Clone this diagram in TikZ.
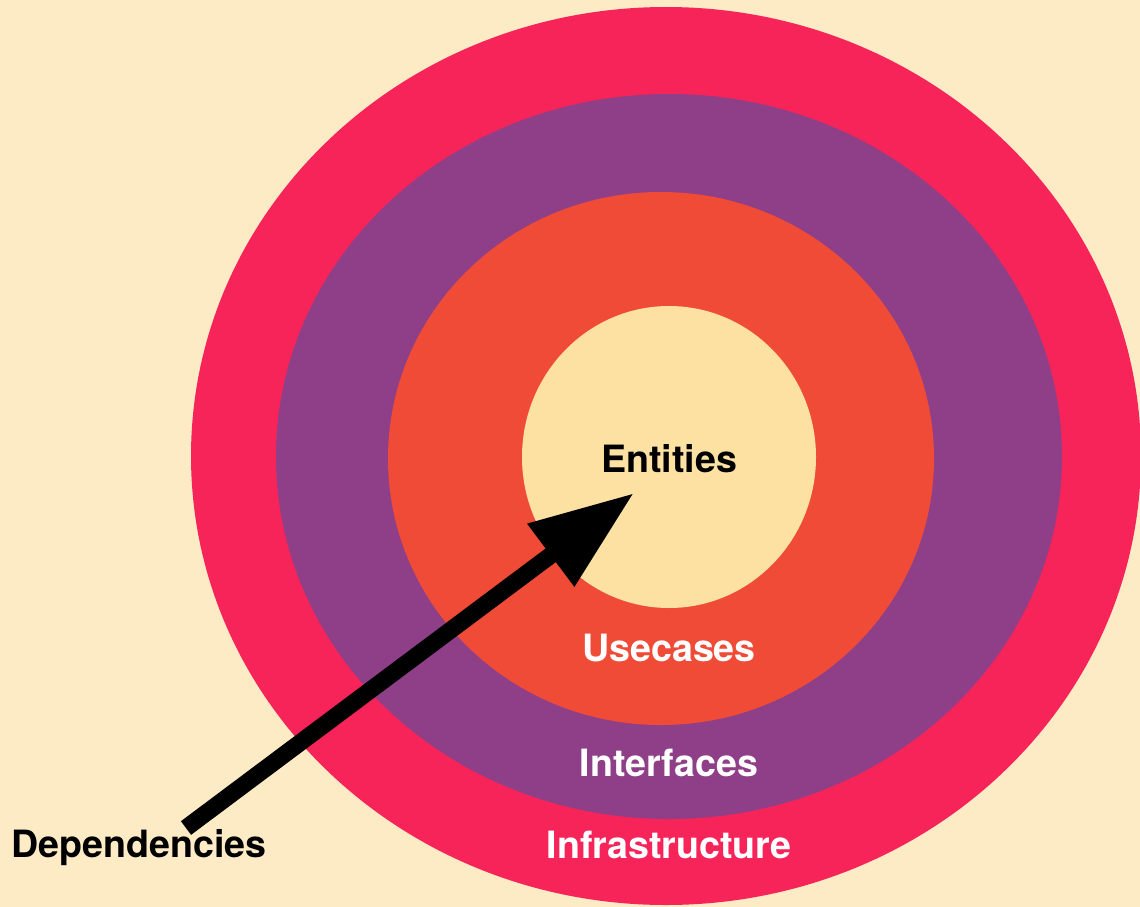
\documentclass[tikz,border=0pt]{standalone}
\usepackage{fontspec}
\setmainfont{TeX Gyre Heros}
\usetikzlibrary{arrows.meta}
\definecolor{cream}{HTML}{FDEBC6}
\definecolor{infra}{HTML}{F7245A}
\definecolor{iface}{HTML}{8F3F88}
\definecolor{usecase}{HTML}{F04B37}
\definecolor{entity}{HTML}{FCE1A2}

\begin{document}
\begin{tikzpicture}[x=1pt,y=-1pt]
            \fill[cream] (0,0) rectangle (1140,907);
            \useasboundingbox (0,0) rectangle (1140,907);
            \clip (0,0) rectangle (1140,907);

            \begin{scope}
                \fill[infra] (666,456) ellipse [x radius=475pt, y radius=449pt];
                \fill[iface] (669,456.5) ellipse [x radius=393pt, y radius=362.5pt];
                \fill[usecase] (661,458.5) ellipse [x radius=273pt, y radius=266.5pt];
                \fill[entity] (669,457) ellipse [x radius=147pt, y radius=151pt];
            \end{scope}

            \begin{scope}[every node/.style={inner sep=0pt, anchor=base,
                          font=\fontsize{37.6}{40}\selectfont\bfseries}]
                \node (E) at (669,472) {Entities};
                \node[text=white] (U) at (669,661) {Usecases};
                \node[text=white] (I) at (669,776) {Interfaces};
                \node[text=white] (F) at (669,858) {Infrastructure};
                \node (D) at (139,857) {Dependencies};
            \end{scope}

            \begin{scope}[>={Triangle[length=104pt, width=74pt]}]
                \coordinate (tail) at (186,828);
                \coordinate (tip) at (634,493);
                \draw[->, line width=17pt] (tail) -- (tip);
            \end{scope}
\end{tikzpicture}
\end{document}
